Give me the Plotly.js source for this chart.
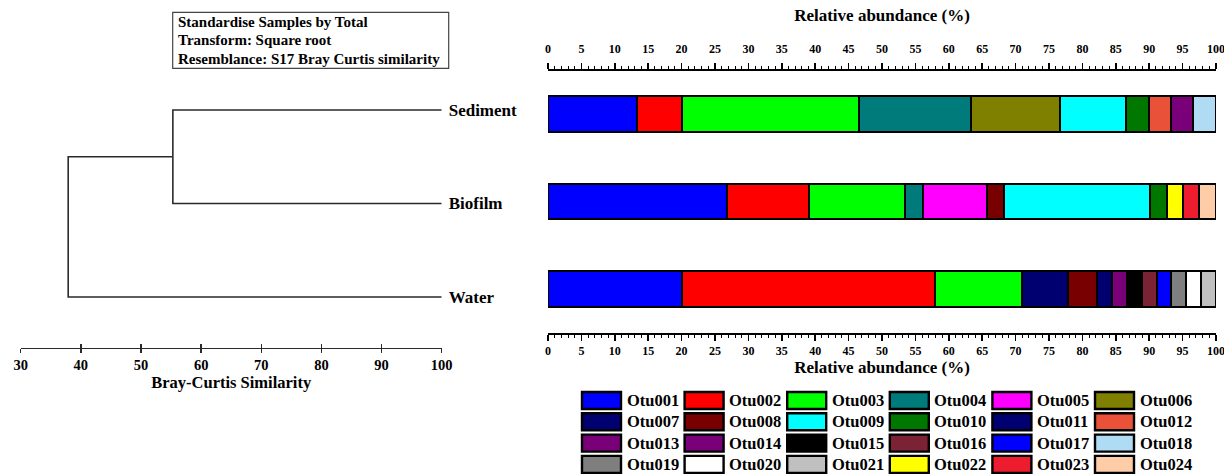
<!DOCTYPE html>
<html>
<head>
<meta charset="utf-8">
<script src="https://cdn.plot.ly/plotly-3.0.1.min.js"></script>
<style>
  html, body { margin: 0; padding: 0; background: #ffffff; }
  #chart { width: 1224px; height: 475px; }
</style>
</head>
<body>
<div id="chart"></div>
<script>
// ---- Cluster dendrogram (Bray-Curtis similarity) ----
const samples = ['Sediment', 'Biofilm', 'Water'];
const samplePos = [2, 1, 0];                       // vertical slot of each sample
const mergeA = ['Sediment', 'Sediment+Biofilm'];
const mergeB = ['Biofilm', 'Water'];
const mergeSimilarity = [55.3, 37.9];
const similarityTicks = [30, 40, 50, 60, 70, 80, 90, 100];

// ---- Relative abundance of the OTUs (%) ----
const otus = ['Otu001','Otu002','Otu003','Otu004','Otu005','Otu006',
              'Otu007','Otu008','Otu009','Otu010','Otu011','Otu012',
              'Otu013','Otu014','Otu015','Otu016','Otu017','Otu018',
              'Otu019','Otu020','Otu021','Otu022','Otu023','Otu024'];
const otuColors = ['#0000ff','#ff0000','#00ff00','#007b7b','#ff00ff','#7f7f00',
                   '#000070','#780000','#00ffff','#007800','#000070','#e95138',
                   '#7a007a','#7a007a','#000000','#7b2335','#0000ff','#afdcf4',
                   '#7f7f7f','#ffffff','#c0c0c0','#ffff00','#ed1c2e','#ffcca8'];
const sediment = [13.3, 6.7, 26.6, 16.7, null, 13.3,
                  null, null, 9.9, 3.4, null, 3.4,
                  3.3, null, null, null, null, 3.4,
                  null, null, null, null, null, null];
const biofilm  = [26.8, 12.2, 14.5, 2.6, 9.6, null,
                  null, 2.6, 21.8, 2.5, null, null,
                  null, null, null, null, null, null,
                  null, null, null, 2.4, 2.4, 2.6];
const water    = [20.0, 37.9, 13.1, null, null, null,
                  6.8, 4.4, null, null, 2.3, null,
                  null, 2.2, 2.2, 2.2, 2.2, null,
                  2.2, 2.2, 2.3, null, null, null];
const abundanceTicks = [0,5,10,15,20,25,30,35,40,45,50,55,60,65,70,75,80,85,90,95,100];

const methodNotes = ['Standardise Samples by Total',
                     'Transform: Square root',
                     'Resemblance: S17 Bray Curtis similarity'];

// ---- page geometry helpers (pixel -> paper) ----
const W = 1224, H = 475;
const px = x => x / W;
const py = y => 1 - y / H;
const SERIF = 'Liberation Serif, Times New Roman, serif';
const INK = '#000000';
const LINE = '#2a2a2a';

const traces = [];

// dendrogram branches
const nodeX = {}, nodeY = {};
samples.forEach((s, i) => { nodeX[s] = 100; nodeY[s] = samplePos[i]; });
mergeA.forEach((a, i) => {
  const b = mergeB[i], sim = mergeSimilarity[i];
  const name = a + '+' + b;
  traces.push({
    type: 'scatter', mode: 'lines', xaxis: 'x', yaxis: 'y',
    x: [nodeX[a], sim, sim, nodeX[b]],
    y: [nodeY[a], nodeY[a], nodeY[b], nodeY[b]],
    line: { color: LINE, width: 1.6 },
    hoverinfo: 'skip', showlegend: false
  });
  nodeX[name] = sim;
  nodeY[name] = (nodeY[a] + nodeY[b]) / 2;
});
// second similarity axis (ticks crossing the line)
traces.push({ type: 'scatter', x: [], y: [], xaxis: 'x4', yaxis: 'y', showlegend: false, hoverinfo: 'skip' });

// stacked abundance bars
otus.forEach((o, i) => {
  traces.push({
    type: 'bar', orientation: 'h', xaxis: 'x2', yaxis: 'y2',
    name: o,
    y: samplePos,
    x: [sediment[i], biofilm[i], water[i]],
    width: 0.41,
    marker: { color: otuColors[i], line: { color: INK, width: 2 } },
    showlegend: false,
    hovertemplate: '%{y}: %{x}%<extra>' + o + '</extra>'
  });
});
// top abundance axis
traces.push({ type: 'scatter', x: [], y: [], xaxis: 'x3', yaxis: 'y2', showlegend: false, hoverinfo: 'skip' });

// legend blocks and method note
const shapes = [];
const annotations = [];
const COLS = 6, colStep = 102.6, rowStep = 21.3;
otus.forEach((o, i) => {
  const c = i % COLS, r = Math.floor(i / COLS);
  const x0 = 582 + c * colStep, y0 = 392 + r * rowStep;
  shapes.push({
    type: 'rect', xref: 'paper', yref: 'paper',
    x0: px(x0), x1: px(x0 + 39), y0: py(y0 + 17), y1: py(y0),
    fillcolor: otuColors[i], line: { color: INK, width: 2.4 }
  });
  annotations.push({
    xref: 'paper', yref: 'paper', x: px(x0 + 42.5), y: py(y0 + 8.5),
    xanchor: 'left', yanchor: 'middle', showarrow: false,
    text: o, font: { family: SERIF, size: 16.5, color: INK, weight: 'bold' }
  });
});
shapes.push({
  type: 'rect', xref: 'paper', yref: 'paper',
  x0: px(172.7), x1: px(448.7), y0: py(68.3), y1: py(12.3),
  line: { color: '#444444', width: 1.2 }, fillcolor: 'rgba(0,0,0,0)'
});
methodNotes.forEach((t, i) => {
  annotations.push({
    xref: 'paper', yref: 'paper', x: px(175.5), y: py(21.7 + i * 18.7),
    xanchor: 'left', yanchor: 'middle', showarrow: false,
    text: t, font: { family: SERIF, size: 15, color: INK, weight: 'bold' }
  });
});

const abundAxis = {
  range: [0, 100], tickvals: abundanceTicks, ticktext: abundanceTicks.map(String),
  ticks: 'outside', ticklen: 6, tickwidth: 1.5, tickcolor: INK,
  minor: { dtick: 1, tick0: 0, ticks: 'outside', ticklen: 3, tickwidth: 1, tickcolor: INK, showgrid: false },
  showline: true, linewidth: 2, linecolor: INK,
  showgrid: false, zeroline: false, fixedrange: true,
  ticklabeloverflow: 'allow',
  tickfont: { family: SERIF, size: 12, color: INK, weight: 'bold' }
};

const layout = {
  width: W, height: H,
  margin: { l: 0, r: 0, t: 0, b: 0, pad: 0 },
  paper_bgcolor: '#ffffff', plot_bgcolor: 'rgba(0,0,0,0)',
  font: { family: SERIF, color: INK, weight: 'bold' },
  showlegend: false,
  barmode: 'stack',
  xaxis: {
    domain: [px(20.7), px(441.7)], range: [30, 100], anchor: 'y',
    tickvals: similarityTicks, ticktext: similarityTicks.map(String),
    ticks: 'outside', ticklen: 3.5, tickwidth: 1.5, tickcolor: LINE,
    showline: true, linewidth: 1.6, linecolor: LINE,
    showgrid: false, zeroline: false, fixedrange: true,
    ticklabeloverflow: 'allow',
    tickfont: { family: SERIF, size: 14.5, color: INK, weight: 'bold' },
    title: { text: 'Bray-Curtis Similarity', standoff: 2,
             font: { family: SERIF, size: 16.5, color: INK, weight: 'bold' } }
  },
  xaxis4: {
    overlaying: 'x', anchor: 'y', range: [30, 100],
    tickvals: similarityTicks, ticks: 'inside', ticklen: 3.5, tickwidth: 1.5, tickcolor: LINE,
    showticklabels: false, showline: false, showgrid: false, zeroline: false, fixedrange: true
  },
  yaxis: {
    domain: [py(347.7), py(90)], range: [-0.542, 2.214], anchor: 'x', side: 'right',
    tickvals: samplePos, ticktext: samples, ticks: '', ticklabelstandoff: 6,
    showline: false, showgrid: false, zeroline: false, fixedrange: true,
    tickfont: { family: SERIF, size: 17, color: INK, weight: 'bold' }
  },
  xaxis2: Object.assign({}, abundAxis, {
    domain: [px(548), px(1216)], anchor: 'y2', side: 'bottom',
    title: { text: 'Relative abundance (%)', standoff: 3,
             font: { family: SERIF, size: 17, color: INK, weight: 'bold' } }
  }),
  xaxis3: Object.assign({}, abundAxis, {
    overlaying: 'x2', anchor: 'y2', side: 'top', ticklabelstandoff: 5,
    title: { text: 'Relative abundance (%)', standoff: 16,
             font: { family: SERIF, size: 17, color: INK, weight: 'bold' } }
  }),
  yaxis2: {
    domain: [py(333), py(71)], range: [-0.503, 2.491], anchor: 'x2',
    showticklabels: false, ticks: '', showline: false, showgrid: false,
    zeroline: false, fixedrange: true
  },
  shapes: shapes,
  annotations: annotations
};

Plotly.newPlot('chart', traces, layout, { displayModeBar: false, staticPlot: true });
</script>
</body>
</html>
